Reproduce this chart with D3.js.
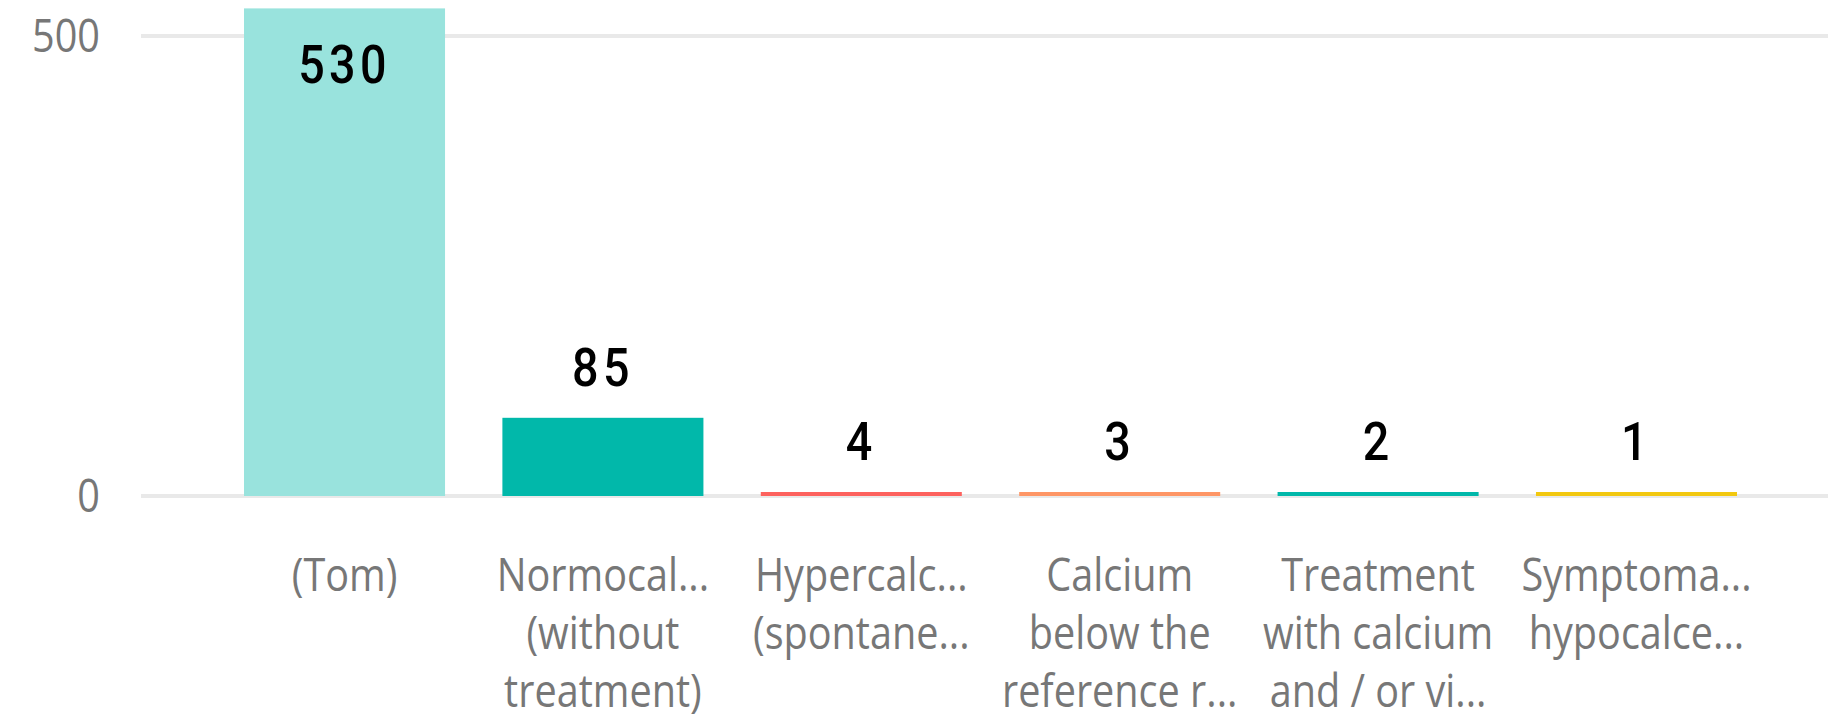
<!DOCTYPE html>
<html>
<head>
<meta charset="utf-8">
<script src="https://cdn.jsdelivr.net/npm/d3@7"></script>
<style>
  html, body { margin: 0; padding: 0; background: #ffffff; }
  svg { display: block; }
</style>
</head>
<body>
<svg id="chart" width="1828" height="722"></svg>
<script>
// Category labels, already wrapped and truncated the way the axis shows them
const categoryLines = [
  ["(Tom)"],
  ["Normocal...", "(without", "treatment)"],
  ["Hypercalc...", "(spontane..."],
  ["Calcium", "below the", "reference r..."],
  ["Treatment", "with calcium", "and / or vi..."],
  ["Symptoma...", "hypocalce..."]
];
const categoryKeys = categoryLines.map((l, i) => "c" + i);

// Count per category
const values = [530, 85, 4, 3, 2, 1];

// Bar fill per category
const barColors = ["#99E3DD", "#01B8AA", "#FD625E", "#FE9666", "#01B8AA", "#F2C80F"];

// Y axis ticks
const yTicks = [0, 500];

const svg = d3.select("#chart");
const W = 1828;

const x = d3.scaleBand()
  .domain(categoryKeys)
  .range([244, 1737])
  .paddingInner(0.222)
  .paddingOuter(0);

const y = d3.scaleLinear()
  .domain([0, 500])
  .range([496, 36]);

const SQUEEZE = 0.88;
const MIN_BAR = 4;

// Gridlines
svg.append("g")
  .selectAll("line")
  .data(yTicks)
  .join("line")
  .attr("x1", 141)
  .attr("x2", W)
  .attr("y1", d => y(d))
  .attr("y2", d => y(d))
  .attr("stroke", "#E9E9E9")
  .attr("stroke-width", 4);

// Y tick labels
svg.append("g")
  .selectAll("text")
  .data(yTicks)
  .join("text")
  .attr("transform", d => `translate(100,${y(d) + 16}) scale(${SQUEEZE},1)`)
  .attr("text-anchor", "end")
  .attr("font-family", "'Open Sans', 'Noto Sans', sans-serif")
  .attr("font-size", 45)
  .attr("fill", "#777777")
  .text(d => d);

// Bars (very small values keep a visible minimum thickness)
const barTop = (v) => Math.min(y(v), y(0) - MIN_BAR);

svg.append("g")
  .selectAll("rect")
  .data(values)
  .join("rect")
  .attr("x", (d, i) => x(categoryKeys[i]))
  .attr("width", x.bandwidth())
  .attr("y", d => barTop(d))
  .attr("height", d => y(0) - barTop(d))
  .attr("fill", (d, i) => barColors[i]);

// Value labels: above the bar, or inside its top end when there is no room
svg.append("g")
  .selectAll("text")
  .data(values)
  .join("text")
  .attr("transform", (d, i) => {
    const cx = x(categoryKeys[i]) + x.bandwidth() / 2;
    const top = barTop(d);
    const outside = top - 32;
    const base = (outside - 38 < 0) ? top + 75 : outside;
    return `translate(${cx},${base}) scale(${SQUEEZE},1)`;
  })
  .attr("text-anchor", "middle")
  .attr("font-family", "Roboto, 'DejaVu Sans', sans-serif")
  .attr("font-weight", 500)
  .attr("font-size", 53)
  .attr("letter-spacing", 5)
  .attr("fill", "#000000")
  .text(d => d);

// Category labels
const cat = svg.append("g")
  .selectAll("g")
  .data(categoryLines)
  .join("g")
  .attr("transform", (d, i) => `translate(${x(categoryKeys[i]) + x.bandwidth() / 2},0)`);

cat.selectAll("text")
  .data(d => d)
  .join("text")
  .attr("transform", (d, j) => `translate(0,${591 + j * 58}) scale(${SQUEEZE},1)`)
  .attr("text-anchor", "middle")
  .attr("font-family", "'Open Sans', 'Noto Sans', sans-serif")
  .attr("font-size", 45)
  .attr("fill", "#777777")
  .text(d => d);
</script>
</body>
</html>
